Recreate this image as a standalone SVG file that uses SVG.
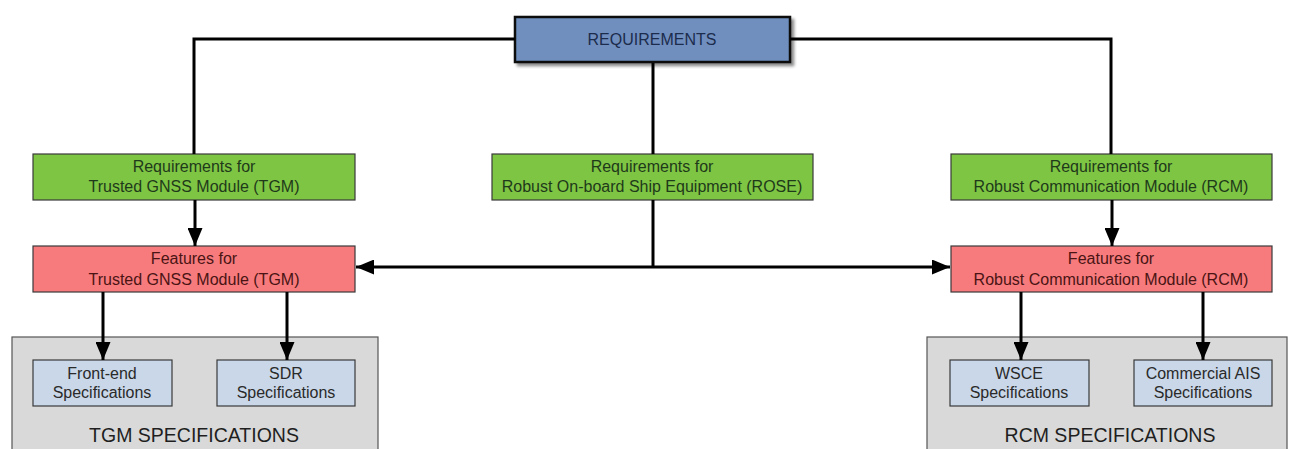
<svg xmlns="http://www.w3.org/2000/svg" width="1293" height="449" viewBox="0 0 1293 449">
<defs>
<style>
text{font-family:"Liberation Sans",Arial,sans-serif;font-size:16px;text-anchor:middle}
.req{fill:#6f8fbf;stroke:#111;stroke-width:2.5}
.green{fill:#7ec544;stroke:#3a3a3a;stroke-width:1.2}
.pink{fill:#f77b7d;stroke:#3a3a3a;stroke-width:1.2}
.spec{fill:#c9d7e8;stroke:#3a3a3a;stroke-width:1.2}
.cont{fill:#d9d9d9;stroke:#555;stroke-width:1.2}
.tg{fill:#1f3a1a}
.tp{fill:#4a1414}
.tb{fill:#2a2a2a}
.tr{fill:#1c2c4c;font-size:16px}
.big{font-size:19.5px;fill:#1f1f1f}
.conn{fill:none;stroke:#000;stroke-width:3}
</style>
<marker id="ah" viewBox="0 0 12 10" refX="12" refY="5" markerWidth="6" markerHeight="5" orient="auto" markerUnits="strokeWidth">
<path d="M0,0 L12,5 L0,10 z" fill="#000"/>
</marker>
<filter id="sh" x="-10%" y="-20%" width="120%" height="150%">
<feDropShadow dx="3" dy="3" stdDeviation="1.5" flood-color="#000" flood-opacity="0.45"/>
</filter>
</defs>
<rect width="1293" height="449" fill="#fff"/>
<g id="requirements">
<rect class="req" x="515" y="17" width="275" height="45" filter="url(#sh)"/>
<text class="tr" x="652" y="45">REQUIREMENTS</text>
</g>
<g id="req-tgm">
<rect class="green" x="33" y="154" width="322" height="46"/>
<text class="tg" x="194" y="172">Requirements for</text>
<text class="tg" x="194" y="192">Trusted GNSS Module (TGM)</text>
</g>
<g id="req-rose">
<rect class="green" x="492" y="154" width="321" height="46"/>
<text class="tg" x="652" y="172">Requirements for</text>
<text class="tg" x="652" y="192">Robust On-board Ship Equipment (ROSE)</text>
</g>
<g id="req-rcm">
<rect class="green" x="951" y="154" width="321" height="46"/>
<text class="tg" x="1111" y="172">Requirements for</text>
<text class="tg" x="1111" y="192">Robust Communication Module (RCM)</text>
</g>
<g id="feat-tgm">
<rect class="pink" x="33" y="246" width="322" height="46"/>
<text class="tp" x="194" y="264">Features for</text>
<text class="tp" x="194" y="285">Trusted GNSS Module (TGM)</text>
</g>
<g id="feat-rcm">
<rect class="pink" x="951" y="246" width="321" height="46"/>
<text class="tp" x="1111" y="264">Features for</text>
<text class="tp" x="1111" y="285">Robust Communication Module (RCM)</text>
</g>
<g id="tgm-spec">
<rect class="cont" x="12" y="337" width="366" height="120"/>
<text class="big" x="194" y="442">TGM SPECIFICATIONS</text>
</g>
<g id="rcm-spec">
<rect class="cont" x="927" y="337" width="360" height="120"/>
<text class="big" x="1110" y="442">RCM SPECIFICATIONS</text>
</g>
<g id="frontend">
<rect class="spec" x="33" y="360" width="139" height="46"/>
<text class="tb" x="102" y="379">Front-end</text>
<text class="tb" x="102" y="398">Specifications</text>
</g>
<g id="sdr">
<rect class="spec" x="217" y="360" width="138" height="46"/>
<text class="tb" x="286" y="379">SDR</text>
<text class="tb" x="286" y="398">Specifications</text>
</g>
<g id="wsce">
<rect class="spec" x="950" y="360" width="139" height="46"/>
<text class="tb" x="1019" y="379">WSCE</text>
<text class="tb" x="1019" y="398">Specifications</text>
</g>
<g id="ais">
<rect class="spec" x="1134" y="360" width="138" height="46"/>
<text class="tb" x="1203" y="379">Commercial AIS</text>
<text class="tb" x="1203" y="398">Specifications</text>
</g>
<g id="connectors">
<path class="conn" d="M515,39 H194 V154"/>
<path class="conn" d="M790,39 H1111 V154"/>
<path class="conn" d="M653,63 V154"/>
<path class="conn" d="M653,200 V267"/>
<path class="conn" d="M653,267 H356" marker-end="url(#ah)"/>
<path class="conn" d="M653,267 H950" marker-end="url(#ah)"/>
<path class="conn" d="M195,200 V246" marker-end="url(#ah)"/>
<path class="conn" d="M1112,200 V246" marker-end="url(#ah)"/>
<path class="conn" d="M103,292 V360" marker-end="url(#ah)"/>
<path class="conn" d="M287,292 V360" marker-end="url(#ah)"/>
<path class="conn" d="M1021,292 V360" marker-end="url(#ah)"/>
<path class="conn" d="M1203,292 V360" marker-end="url(#ah)"/>
</g>
</svg>
